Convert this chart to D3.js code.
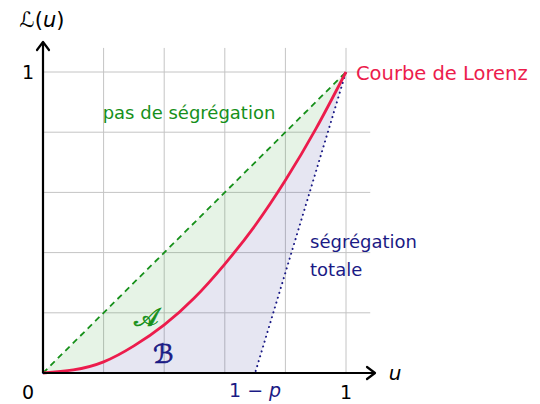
<!DOCTYPE html>
<html>
<head>
<meta charset="utf-8">
<script src="https://cdn.jsdelivr.net/npm/d3@7"></script>
<style>
  body { margin: 0; background: #fff; }
  text { font-family: "DejaVu Sans", sans-serif; }
</style>
</head>
<body>
<svg id="chart" width="540" height="404"></svg>
<script>
// values
const lorenzU = [0, 0.1, 0.2, 0.3, 0.4, 0.5, 0.6, 0.7, 0.8, 0.9, 1];
const lorenzL = [0, 0.01, 0.037, 0.09, 0.16, 0.25, 0.362, 0.49, 0.64, 0.81, 1];
const oneMinusP = 0.7;
const gridTicks = [0, 0.2, 0.4, 0.6, 0.8, 1];
const axisTicks = [0, 1];

const svg = d3.select("#chart");
const x = d3.scaleLinear().domain([0, 1]).range([43, 346]);
const y = d3.scaleLinear().domain([0, 1]).range([373, 72]);

const green = "#16901a", navy = "#1a1a85", red = "#ec1c4c";

const curvePts = lorenzU.map((u, i) => [u, lorenzL[i]]);
const line = d3.line().x(d => x(d[0])).y(d => y(d[1])).curve(d3.curveNatural);

// grid
const gmax = 1.08;
svg.append("g").selectAll("line").data(gridTicks.slice(1)).enter().append("line")
    .attr("x1", d => x(d)).attr("x2", d => x(d))
    .attr("y1", y(0)).attr("y2", y(gmax))
    .attr("stroke", "#c4c4c4").attr("stroke-width", 1);
svg.append("g").selectAll("line").data(gridTicks.slice(1)).enter().append("line")
    .attr("y1", d => y(d)).attr("y2", d => y(d))
    .attr("x1", x(0)).attr("x2", x(gmax))
    .attr("stroke", "#c4c4c4").attr("stroke-width", 1);

// area A: between diagonal and the curve
svg.append("path")
    .attr("d", "M" + [x(0), y(0)] + "L" + [x(1), y(1)] +
        line(curvePts.slice().reverse()).replace(/^M/, "L") + "Z")
    .attr("fill", "#2e9a2e").attr("fill-opacity", 0.12);

// area B: between the curve and total segregation
svg.append("path")
    .attr("d", line(curvePts) + "L" + [x(oneMinusP), y(0)] + "Z")
    .attr("fill", "#3a3a9a").attr("fill-opacity", 0.13);

// total segregation (dotted)
svg.append("path")
    .attr("d", "M" + [x(0), y(0)] + "L" + [x(oneMinusP), y(0)] + "L" + [x(1), y(1)])
    .attr("fill", "none").attr("stroke", navy).attr("stroke-width", 2)
    .attr("stroke-dasharray", "0.1 5").attr("stroke-linecap", "round");

// no segregation (dashed)
svg.append("line")
    .attr("x1", x(0)).attr("y1", y(0)).attr("x2", x(1)).attr("y2", y(1))
    .attr("stroke", green).attr("stroke-width", 1.8).attr("stroke-dasharray", "6 4.5");

// Lorenz curve
svg.append("path").attr("d", line(curvePts))
    .attr("fill", "none").attr("stroke", red).attr("stroke-width", 2.8);

// axes
const axisG = svg.append("g").attr("stroke", "#000").attr("stroke-width", 2.2).attr("fill", "none");
axisG.append("line").attr("x1", x(0)).attr("y1", y(0)).attr("x2", 374).attr("y2", y(0));
axisG.append("line").attr("x1", x(0)).attr("y1", y(0)).attr("x2", x(0)).attr("y2", 43);
axisG.append("path").attr("d", `M${367},${y(0) - 6} L${375},${y(0)} L${367},${y(0) + 6}`)
    .attr("stroke-linejoin", "round").attr("stroke-linecap", "round");
axisG.append("path").attr("d", `M${x(0) - 6},${50} L${x(0)},${42} L${x(0) + 6},${50}`)
    .attr("stroke-linejoin", "round").attr("stroke-linecap", "round");

// tick labels
svg.selectAll(".xt").data(axisTicks).enter().append("text")
    .attr("x", d => d === 0 ? 28 : x(d)).attr("y", 399)
    .attr("text-anchor", "middle").attr("font-size", 19).text(d => d);
svg.append("text").attr("x", 28).attr("y", y(1) + 7)
    .attr("text-anchor", "middle").attr("font-size", 19).text("1");

svg.append("text").attr("x", x(oneMinusP)).attr("y", 397)
    .attr("text-anchor", "middle").attr("font-size", 19).attr("fill", navy)
    .html('1 − <tspan font-style="italic">p</tspan>');

svg.append("text").attr("x", 395).attr("y", 380).attr("text-anchor", "middle")
    .attr("font-size", 20).attr("font-style", "italic").text("u");
svg.append("text").attr("x", 42).attr("y", 27).attr("text-anchor", "middle")
    .attr("font-size", 21).attr("font-family", "'DejaVu Serif', serif")
    .html('ℒ(<tspan font-style="italic">u</tspan>)');

// annotations
svg.append("text").attr("x", 356).attr("y", 80).attr("font-size", 19.5)
    .attr("fill", red).text("Courbe de Lorenz");
svg.append("text").attr("x", 189).attr("y", 119).attr("text-anchor", "middle")
    .attr("font-size", 18).attr("fill", green).text("pas de ségrégation");
svg.append("text").attr("x", 310).attr("y", 248).attr("font-size", 18)
    .attr("fill", navy).text("ségrégation");
svg.append("text").attr("x", 310).attr("y", 276).attr("font-size", 18)
    .attr("fill", navy).text("totale");

// calligraphic area labels, thickened a little
svg.append("text").attr("x", 134).attr("y", 326).attr("font-size", 26)
    .attr("fill", green).attr("stroke", green).attr("stroke-width", 0.7)
    .attr("font-family", "'DejaVu Serif', serif").text("𝒜");
svg.append("text").attr("x", 153).attr("y", 363).attr("font-size", 26)
    .attr("fill", navy).attr("stroke", navy).attr("stroke-width", 0.7)
    .attr("font-family", "'DejaVu Serif', serif").text("ℬ");
</script>
</body>
</html>
